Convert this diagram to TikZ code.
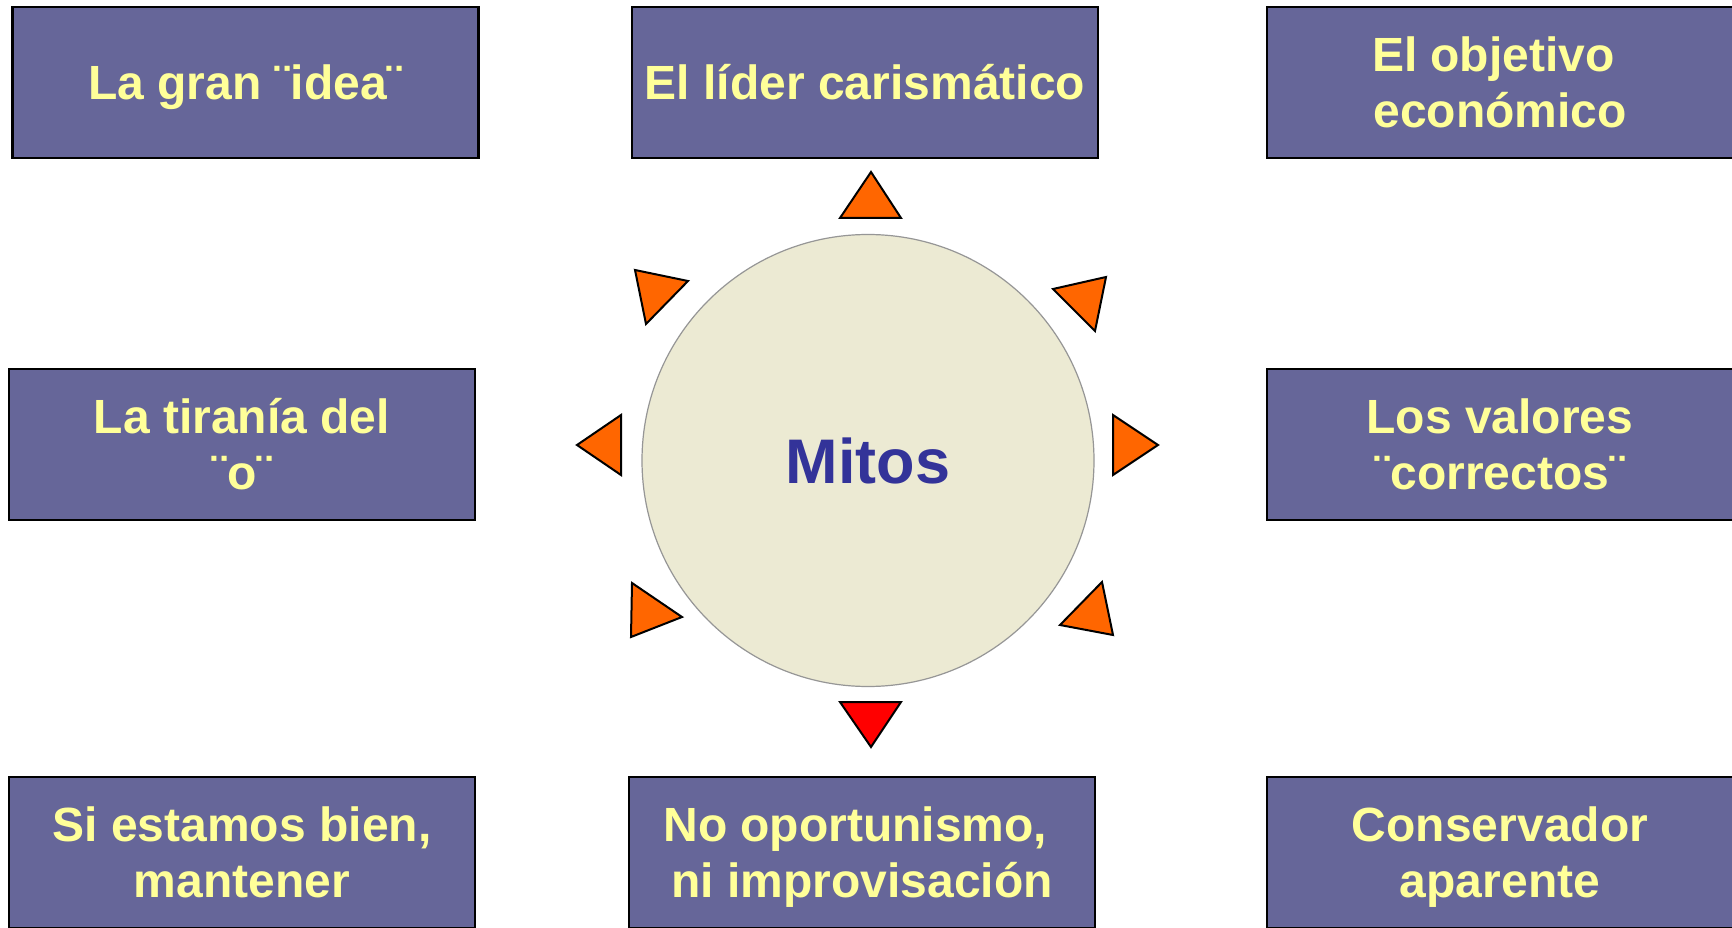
\documentclass[tikz,border=0pt]{standalone}
\usepackage{fontspec}
\setmainfont{Liberation Sans}
\definecolor{boxfill}{RGB}{102,102,153}
\definecolor{boxtext}{RGB}{255,255,153}
\definecolor{mitosblue}{RGB}{51,51,153}
\definecolor{circfill}{RGB}{236,234,211}
\definecolor{circline}{RGB}{150,150,150}
\definecolor{triorange}{RGB}{255,102,0}
\definecolor{trired}{RGB}{255,0,0}
\tikzset{
  mybox/.style={rectangle, draw=black, line width=2.5pt, fill=boxfill,
    minimum width=466pt, minimum height=151pt, inner sep=0pt,
    text=boxtext, align=center,
    font=\fontsize{48}{56}\selectfont\bfseries},
  oneline/.style={mybox, text height=34pt, text depth=0pt},
  twoline/.style={mybox, text height=90pt, text depth=0pt},
  mycirc/.style={circle, draw=circline, line width=1.2pt, fill=circfill,
    minimum size=452pt, inner sep=0pt, text=mitosblue,
    font=\fontsize{63}{70}\selectfont\bfseries},
  tri/.style={draw=black, line width=2pt, line join=miter, fill=triorange},
  trib/.style={tri, fill=trired}
}
\begin{document}
\begin{tikzpicture}[x=1pt,y=-1pt]
\useasboundingbox (0,0) rectangle (1732,928);
\clip (0,0) rectangle (1732,928);
\fill[white] (0,0) rectangle (1732,928);

\node[oneline] (tl) at (245.5,82.5) {La gran ¨idea¨};
\node[oneline] (tc) at (865,82.5) {El líder carismático};
\node[twoline] (tr) at (1500,82.5) {El objetivo\hphantom{ }\\económico};
\node[twoline] (ml) at (242,444.5) {La tiranía del\\¨o¨};
\node[twoline] (mr) at (1500,444.5) {Los valores\\¨correctos¨};
\node[twoline] (bl) at (242,852.5) {Si estamos bien,\\mantener};
\node[twoline] (bc) at (862,852.5) {No oportunismo,\hphantom{ }\\ni improvisación};
\node[twoline] (br) at (1500,852.5) {Conservador\\aparente};

\node[mycirc] (mitos) at (868,460.5) {Mitos};

% triangles around the circle
\draw[tri] (871,172) -- (901,218) -- (840,218) -- cycle;
\draw[trib] (840,702) -- (901,702) -- (871,747) -- cycle;
\draw[tri] (577,445) -- (621,415) -- (621,475) -- cycle;
\draw[tri] (1158,445) -- (1113,415) -- (1113,475) -- cycle;
\draw[tri] (635,270) -- (688,281) -- (646,324) -- cycle;
\draw[tri] (1106,277) -- (1053,289) -- (1095,331) -- cycle;
\draw[tri] (631,637) -- (632,583) -- (682,617) -- cycle;
\draw[tri] (1113,635) -- (1102,582) -- (1060,625) -- cycle;
\end{tikzpicture}
\end{document}
